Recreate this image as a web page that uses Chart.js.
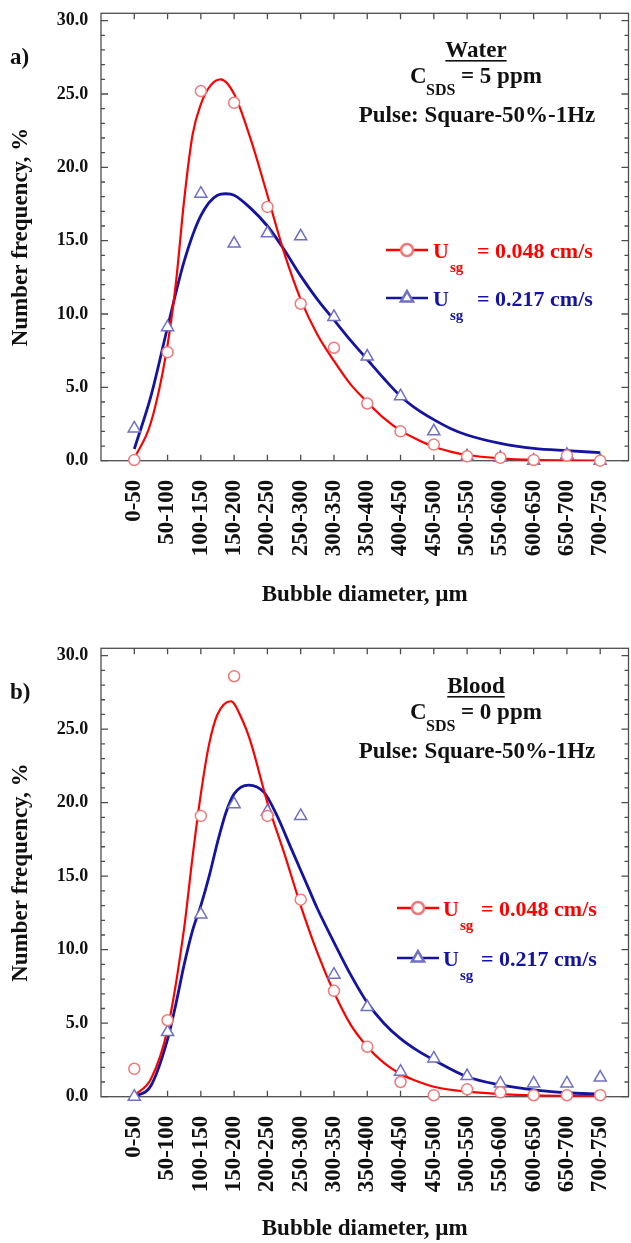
<!DOCTYPE html>
<html>
<head>
<meta charset="utf-8">
<script src="https://cdn.jsdelivr.net/npm/chart.js@4.4.1/dist/chart.umd.min.js"></script>
<style>
  html, body { margin: 0; padding: 0; background: #fff; overflow: hidden; }
  canvas { display: block; }
</style>
</head>
<body>
<canvas id="chartA" width="637" height="635"></canvas>
<canvas id="chartB" width="637" height="608"></canvas>
<script>
// bubble size classes (um)
const bins = ['0-50', '50-100', '100-150', '150-200', '200-250', '250-300', '300-350', '350-400',
  '400-450', '450-500', '500-550', '550-600', '600-650', '650-700', '700-750'];
const yTicks = [0, 5, 10, 15, 20, 25, 30];

// measured number frequency, %  (Usg = 0.048 cm/s -> low, 0.217 cm/s -> high)
const waterLow = [0.05, 7.4, 25.2, 24.4, 17.3, 10.7, 7.7, 3.9, 2.0, 1.1, 0.3, 0.2, 0.05, 0.35, 0.0];
const waterHigh = [2.2, 9.1, 18.2, 14.8, 15.5, 15.3, 9.8, 7.1, 4.4, 2.0, 0.3, 0.2, 0.0, 0.4, 0.0];
const bloodLow = [1.9, 5.2, 19.1, 28.6, 19.1, 13.4, 7.2, 3.4, 1.0, 0.1, 0.5, 0.3, 0.1, 0.1, 0.1];
const bloodHigh = [0.0, 4.4, 12.4, 19.9, 19.4, 19.1, 8.3, 6.1, 1.7, 2.6, 1.4, 0.9, 0.9, 0.9, 1.3];

// fitted curves, x in class positions (0 = '0-50')
const waterLowFitX = [0, 0.5, 1, 1.25, 1.5, 1.75, 2, 2.3, 2.6, 3, 3.5, 4, 4.5, 5, 5.5, 6, 6.5, 7, 7.5, 8, 8.5, 9, 9.5, 10, 11, 12, 13, 14];
const waterLowFitY = [0.15, 2.6, 7.9, 12.1, 17.8, 22.2, 24.3, 25.6, 26.0, 25.0, 21.9, 18.1, 14.2, 11.0, 8.6, 6.8, 5.2, 4.0, 2.9, 2.05, 1.45, 0.95, 0.62, 0.39, 0.16, 0.05, 0.02, 0.01];
const waterHighFitX = [0, 0.5, 1, 1.5, 2, 2.5, 2.75, 3, 3.5, 4, 4.5, 5, 5.5, 6, 6.5, 7, 7.5, 8, 8.5, 9, 9.5, 10, 11, 12, 13, 14];
const waterHighFitY = [0.8, 4.4, 9.1, 13.6, 16.7, 18.1, 18.2, 18.1, 17.2, 16.0, 14.4, 12.6, 11.0, 9.6, 8.2, 6.9, 5.6, 4.4, 3.5, 2.8, 2.2, 1.75, 1.18, 0.84, 0.68, 0.55];
const bloodLowFitX = [0, 0.5, 1, 1.5, 1.75, 2, 2.25, 2.5, 2.9, 3.25, 3.5, 4, 4.5, 5, 5.5, 6, 6.5, 7, 7.5, 8, 8.5, 9, 10, 11, 12, 13, 14];
const bloodLowFitY = [0.1, 1.2, 4.6, 11.5, 16.3, 20.6, 24.0, 26.0, 26.9, 25.6, 24.1, 20.0, 16.6, 13.0, 9.8, 7.1, 4.9, 3.4, 2.3, 1.55, 1.05, 0.68, 0.34, 0.18, 0.09, 0.06, 0.04];
const bloodHighFitX = [0, 0.5, 1, 1.25, 1.5, 1.75, 2, 2.25, 2.5, 2.75, 3, 3.44, 3.9, 4.25, 4.75, 5.25, 5.5, 6, 6.5, 7, 7.5, 8, 8.5, 9, 10, 11, 12, 13, 14];
const bloodHighFitY = [0.0, 0.75, 3.9, 6.3, 9.0, 11.3, 13.0, 15.0, 17.3, 19.3, 20.6, 21.2, 20.7, 19.3, 16.7, 14.1, 12.8, 10.5, 8.3, 6.4, 5.0, 3.95, 3.15, 2.5, 1.36, 0.8, 0.46, 0.27, 0.18];

const seriesLabels = ['= 0.048 cm/s', '= 0.217 cm/s'];
const panelTags = ['a)', 'b)'];
const fluids = ['Water', 'Blood'];
const sdsConc = ['= 5 ppm', '= 0 ppm'];
const pulseText = 'Pulse: Square-50%-1Hz';

const serif = '"Liberation Serif", "Times New Roman", serif';
const RED = '#ff0000', BLUE = '#1414a0';
const RED_MK = '#f07a7a', BLUE_MK = '#6f6fc4';

function points(ys) { return ys.map((y, i) => ({ x: i, y: y })); }
function curve(xs, ys) { return xs.map((x, i) => ({ x: x, y: ys[i] })); }

// frame with inward ticks on all four sides
const framePlugin = {
  id: 'frame',
  beforeDatasetsDraw(chart) {
    const { ctx, chartArea: a, scales: { x, y } } = chart;
    ctx.save();
    ctx.strokeStyle = '#4d4d4d';
    ctx.lineWidth = 1.3;
    ctx.strokeRect(a.left, a.top, a.right - a.left, a.bottom - a.top);
    ctx.beginPath();
    bins.forEach((b, i) => {
      const px = x.getPixelForValue(i);
      ctx.moveTo(px, a.bottom); ctx.lineTo(px, a.bottom - 6);
      ctx.moveTo(px, a.top); ctx.lineTo(px, a.top + 6);
    });
    for (let v = 0; v <= 30; v++) {
      const py = y.getPixelForValue(v);
      const len = v % 5 === 0 ? 7 : 4;
      ctx.moveTo(a.left, py); ctx.lineTo(a.left + len, py);
      ctx.moveTo(a.right, py); ctx.lineTo(a.right - len, py);
    }
    ctx.stroke();
    ctx.restore();
  }
};

function legendRow(ctx, o, y, lineColor, mkColor, style, label) {
  ctx.strokeStyle = lineColor;
  ctx.lineWidth = 2.5;
  ctx.beginPath();
  ctx.moveTo(o.lineX, y); ctx.lineTo(o.lineX + 42, y);
  ctx.stroke();
  ctx.fillStyle = '#fff';
  ctx.strokeStyle = mkColor;
  Chart.helpers.drawPoint(ctx, { pointStyle: style, radius: style === 'triangle' ? 7 : 6, borderWidth: 1.5 }, o.lineX + 21, y);
  ctx.fillStyle = lineColor;
  ctx.textAlign = 'left';
  ctx.textBaseline = 'alphabetic';
  ctx.font = 'bold 22px ' + serif;
  ctx.fillText('U', o.uX, y + 8);
  ctx.fillText(label, o.eqX, y + 8);
  ctx.font = 'bold 15px ' + serif;
  ctx.fillText('sg', o.uX + 17, y + 22);
}

// panel tag, fluid notes and the legend
const notesPlugin = {
  id: 'notes',
  afterDraw(chart, args, o) {
    const ctx = chart.ctx;
    const dy = o.dy;
    ctx.save();
    ctx.fillStyle = '#111';
    ctx.textBaseline = 'alphabetic';
    ctx.font = 'bold 23px ' + serif;
    ctx.textAlign = 'left';
    ctx.fillText(o.tag, 10, 64);

    ctx.textAlign = 'center';
    ctx.fillText(o.fluid, 476, 57 + dy);
    const w = ctx.measureText(o.fluid).width;
    ctx.fillRect(476 - w / 2, 60 + dy, w, 1.6);
    ctx.fillText(pulseText, 477, 122 + dy);

    ctx.textAlign = 'left';
    ctx.fillText('C', 410, 83 + dy);
    ctx.fillText(o.sds, 461, 83 + dy);
    ctx.font = 'bold 16px ' + serif;
    ctx.fillText('SDS', 426, 95 + dy);

    legendRow(ctx, o, o.legendY[0], RED, RED_MK, 'circle', seriesLabels[0]);
    legendRow(ctx, o, o.legendY[1], BLUE, BLUE_MK, 'triangle', seriesLabels[1]);
    ctx.restore();
  }
};

function makePanel(id, p) {
  const tickFont = { family: serif, weight: 'bold' };
  new Chart(document.getElementById(id), {
    type: 'line',
    data: {
      datasets: [
        { data: points(p.low), showLine: false, pointStyle: 'circle', pointRadius: 5.5,
          pointBorderWidth: 1.5, pointBorderColor: RED_MK, pointBackgroundColor: '#fff', clip: false },
        { data: points(p.high), showLine: false, pointStyle: 'triangle', pointRadius: 7,
          pointBorderWidth: 1.5, pointBorderColor: BLUE_MK, pointBackgroundColor: '#fff', clip: false },
        { data: curve(p.lowFitX, p.lowFitY), borderColor: RED, borderWidth: 2.2, pointRadius: 0,
          cubicInterpolationMode: 'monotone', fill: false },
        { data: curve(p.highFitX, p.highFitY), borderColor: BLUE, borderWidth: 2.8, pointRadius: 0,
          cubicInterpolationMode: 'monotone', fill: false }
      ]
    },
    options: {
      responsive: false,
      animation: false,
      devicePixelRatio: 1,
      layout: { padding: { left: 0, right: 0, top: 13.3, bottom: 0 } },
      plugins: {
        legend: { display: false },
        tooltip: { enabled: false },
        notes: p.notes
      },
      scales: {
        x: {
          type: 'linear', min: -1, max: 14.85,
          afterBuildTicks: s => { s.ticks = bins.map((b, i) => ({ value: i })); },
          afterFit: s => { s.height = p.axisH; s.paddingLeft = 0; s.paddingRight = 0; },
          grid: { display: false, drawTicks: false },
          border: { display: false },
          ticks: {
            autoSkip: false, minRotation: 90, maxRotation: 90, padding: 19, color: '#111',
            font: Object.assign({ size: 23 }, tickFont),
            callback: v => bins[v]
          },
          title: {
            display: true, text: 'Bubble diameter, µm', color: '#111',
            font: Object.assign({ size: 23 }, tickFont),
            padding: { top: 0, bottom: p.titlePad }
          }
        },
        y: {
          min: 0, max: 30.5,
          afterBuildTicks: s => { s.ticks = yTicks.map(v => ({ value: v })); },
          afterFit: s => { s.width = 101; s.paddingTop = 0; s.paddingBottom = 0; },
          grid: { display: false, drawTicks: false },
          border: { display: false },
          ticks: {
            padding: 12.7, color: '#111',
            font: Object.assign({ size: 18 }, tickFont),
            callback: v => v.toFixed(1)
          },
          title: {
            display: true, text: 'Number frequency, %', color: '#111',
            font: Object.assign({ size: 23 }, tickFont),
            padding: { top: 7, bottom: 0 }
          }
        }
      }
    },
    plugins: [framePlugin, notesPlugin]
  });
}

makePanel('chartA', {
  low: waterLow, high: waterHigh,
  lowFitX: waterLowFitX, lowFitY: waterLowFitY,
  highFitX: waterHighFitX, highFitY: waterHighFitY,
  axisH: 174.3, titlePad: 26,
  notes: { tag: panelTags[0], fluid: fluids[0], sds: sdsConc[0], dy: 0,
    lineX: 386, uX: 433, eqX: 477, legendY: [250, 298] }
});

makePanel('chartB', {
  low: bloodLow, high: bloodHigh,
  lowFitX: bloodLowFitX, lowFitY: bloodLowFitY,
  highFitX: bloodHighFitX, highFitY: bloodHighFitY,
  axisH: 146.3, titlePad: 0,
  notes: { tag: panelTags[1], fluid: fluids[1], sds: sdsConc[1], dy: 1,
    lineX: 397, uX: 443, eqX: 481, legendY: [273, 323] }
});
</script>
</body>
</html>
